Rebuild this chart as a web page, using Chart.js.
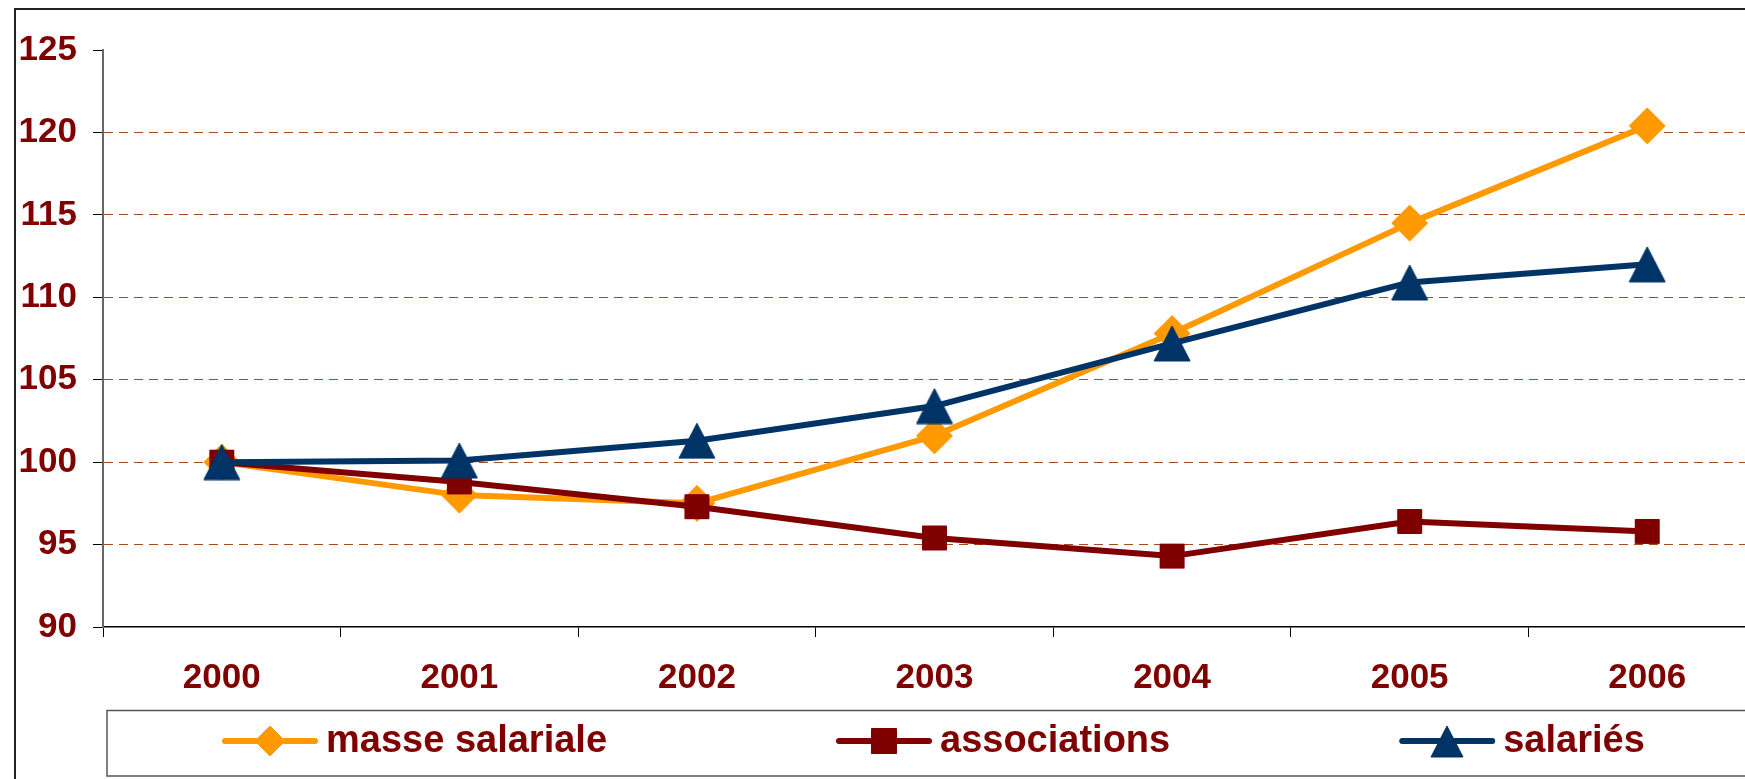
<!DOCTYPE html>
<html><head><meta charset="utf-8">
<script src="https://cdn.jsdelivr.net/npm/chart.js@4/dist/chart.umd.min.js"></script>
<style>html,body{margin:0;padding:0;background:#fff;overflow:hidden;width:1745px;height:779px}canvas{display:block}</style>
</head><body>
<canvas id="c" width="1796" height="779" style="width:1796px;height:779px"></canvas>
<script>
const years = ['2000', '2001', '2002', '2003', '2004', '2005', '2006'];
const masseSalariale = [100, 98.0, 97.5, 101.6, 107.8, 114.5, 120.4];
const associations = [100, 98.8, 97.3, 95.4, 94.3, 96.4, 95.8];
const salaries = [100, 100.1, 101.3, 103.4, 107.2, 110.9, 112.0];
const seriesNames = ['masse salariale', 'associations', 'salariés'];
const yTicks = [90, 95, 100, 105, 110, 115, 120, 125];

const ORANGE = '#FF9900', DARKRED = '#800000', NAVY = '#003366';
const FONT = '"Liberation Sans", Arial, sans-serif';

function makeMarker(kind, color, s) {
  const c = document.createElement('canvas');
  const g = c.getContext('2d');
  if (kind === 'diamond') {
    const w = Math.round(34 * s) + 2; c.width = w; c.height = w;
    g.fillStyle = color; g.strokeStyle = color; g.lineJoin = 'round'; g.lineWidth = 1;
    const h = w / 2;
    g.beginPath(); g.moveTo(h, 1); g.lineTo(w - 1, h); g.lineTo(h, w - 1); g.lineTo(1, h); g.closePath();
    g.fill(); g.stroke();
  } else if (kind === 'square') {
    const w = Math.round(24 * s) + 2; c.width = w; c.height = w;
    g.fillStyle = color; g.strokeStyle = color; g.lineJoin = 'round'; g.lineWidth = 1;
    g.beginPath(); g.rect(1.5, 1.5, w - 3, w - 3); g.fill(); g.stroke();
  } else {
    const w = Math.round(34 * s) + 2, hh = Math.round(33 * s) + 2; c.width = w; c.height = hh;
    g.fillStyle = color; g.strokeStyle = color; g.lineJoin = 'round'; g.lineWidth = 1;
    g.beginPath(); g.moveTo(w / 2, 1); g.lineTo(w - 1, hh - 1); g.lineTo(1, hh - 1); g.closePath();
    g.fill(); g.stroke();
  }
  return c;
}

const markers = [makeMarker('diamond', ORANGE, 1.06), makeMarker('square', DARKRED, 1.06), makeMarker('triangle', NAVY, 1.06)];
const legendMarkers = [makeMarker('diamond', ORANGE, 0.88), makeMarker('square', DARKRED, 1.1), makeMarker('triangle', NAVY, 0.95)];
const colors = [ORANGE, DARKRED, NAVY];
const seriesData = [masseSalariale, associations, salaries];

const frameAndLegend = {
  id: 'frameAndLegend',
  beforeDraw(chart) {
    const ctx = chart.ctx;
    ctx.save();
    ctx.fillStyle = '#fff';
    ctx.fillRect(0, 0, chart.width, chart.height);
    ctx.restore();
  },
  afterDraw(chart) {
    const ctx = chart.ctx;
    ctx.save();
    ctx.strokeStyle = '#222'; ctx.lineWidth = 2;
    ctx.beginPath(); ctx.moveTo(15, 800); ctx.lineTo(15, 9); ctx.lineTo(1790, 9); ctx.stroke();
    ctx.strokeStyle = '#555'; ctx.lineWidth = 1.5;
    ctx.strokeRect(107, 710.5, 1670, 65.5);
    ctx.font = 'bold 38px ' + FONT;
    ctx.textBaseline = 'alphabetic'; ctx.textAlign = 'left';
    let x = 223; const cy = 741;
    chart.data.datasets.forEach((ds, i) => {
      ctx.strokeStyle = ds.borderColor; ctx.lineWidth = 6; ctx.lineCap = 'round';
      ctx.beginPath(); ctx.moveTo(x + 2, cy); ctx.lineTo(x + 92, cy); ctx.stroke();
      const m = legendMarkers[i];
      ctx.drawImage(m, Math.round(x + 47 - m.width / 2), Math.round(cy - m.height / 2));
      ctx.fillStyle = DARKRED;
      ctx.fillText(ds.label, x + 103, 752);
      const w = ctx.measureText(ds.label).width;
      x += 103 + w + 230;
    });
    ctx.restore();
  }
};

const datasets = seriesNames.map((name, i) => ({
  label: name,
  data: seriesData[i],
  borderColor: colors[i],
  backgroundColor: colors[i],
  borderWidth: 6,
  tension: 0,
  borderJoinStyle: 'round',
  borderCapStyle: 'round',
  pointStyle: markers[i],
  pointRadius: 17,
  pointHoverRadius: 17,
  order: 3 - i,
  clip: false
}));

new Chart(document.getElementById('c'), {
  type: 'line',
  data: { labels: years, datasets },
  options: {
    responsive: false,
    animation: false,
    events: [],
    layout: { padding: { top: 50, right: 30, bottom: 0, left: 0 } },
    plugins: { legend: { display: false }, tooltip: { enabled: false } },
    scales: {
      x: {
        type: 'category',
        offset: true,
        grid: { offset: true, drawOnChartArea: false, drawTicks: true, tickLength: 10, tickColor: '#000', tickWidth: 1 },
        border: { display: true, color: '#000', width: 1.5 },
        ticks: { color: DARKRED, font: { family: FONT, size: 35, weight: 'bold' }, padding: 20, maxRotation: 0, autoSkip: false },
        afterFit(s) { s.height = 152; }
      },
      y: {
        min: 90, max: 125,
        afterBuildTicks(s) { s.ticks = yTicks.map(v => ({ value: v })); },
        grid: {
          color: c => (c.tick && (c.tick.value === 90 || c.tick.value === 125)) ? 'rgba(0,0,0,0)' : '#a64b20',
          lineWidth: 1, tickLength: 10, tickColor: '#000', tickWidth: 1
        },
        border: { display: true, color: '#666', width: 2, dash: [9, 6] },
        ticks: { color: DARKRED, font: { family: FONT, size: 35, weight: 'bold' }, padding: 16 },
        afterFit(s) { s.width = 103; }
      }
    }
  },
  plugins: [frameAndLegend]
});
</script>
</body></html>
